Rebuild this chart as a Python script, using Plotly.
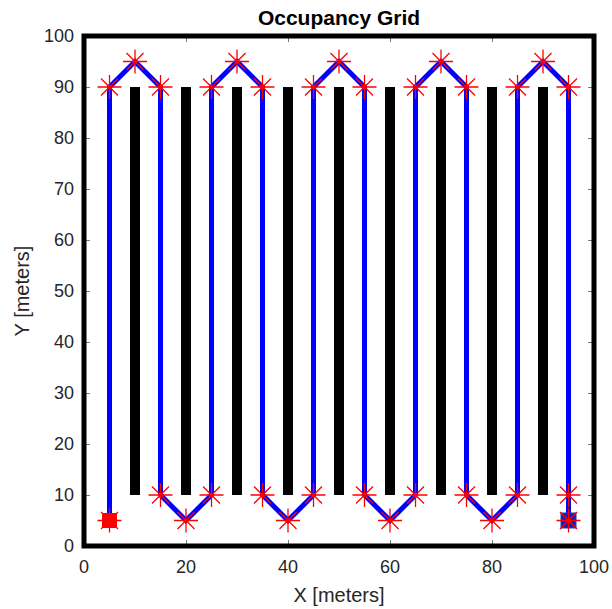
import plotly.graph_objects as go

# Waypoints of the coverage path
path_x = [5, 5, 10, 15, 15, 20, 25, 25, 30, 35, 35, 40, 45, 45, 50, 55, 55, 60, 65, 65, 70, 75, 75, 80, 85, 85, 90, 95, 95, 95]
path_y = [5, 90, 95, 90, 10, 5, 10, 90, 95, 90, 10, 5, 10, 90, 95, 90, 10, 5, 10, 90, 95, 90, 10, 5, 10, 90, 95, 90, 10, 5]

# Obstacles (occupied columns)
obs_x = [10, 20, 30, 40, 50, 60, 70, 80, 90]
obs_bottom = [10] * 9
obs_height = [80] * 9

start_pt = (5, 5)
goal_pt = (95, 5)

FONT = "Liberation Sans, Arial"
TXT = "#262626"

fig = go.Figure()
fig.add_trace(go.Bar(x=obs_x, y=obs_height, base=obs_bottom, width=2,
                     marker=dict(color="black", line=dict(width=0)), showlegend=False))
fig.add_trace(go.Scatter(x=path_x, y=path_y, mode="lines",
                         line=dict(color="#0000ff", width=5), showlegend=False))
fig.add_trace(go.Scatter(x=[start_pt[0]], y=[start_pt[1]], mode="markers",
                         marker=dict(symbol="square", size=15, color="red"), showlegend=False))
fig.add_trace(go.Scatter(x=[goal_pt[0]], y=[goal_pt[1]], mode="markers",
                         marker=dict(symbol="square", size=15, color="#1a1ab4",
                                     line=dict(color="#3030c0", width=1)), showlegend=False))
fig.add_trace(go.Scatter(x=path_x, y=path_y, mode="markers",
                         marker=dict(symbol="asterisk-open", size=20, color="red",
                                     line=dict(color="red", width=1.3)), showlegend=False))

axis_common = dict(range=[0, 100], showgrid=False, zeroline=False, showline=False,
                   automargin=False,
                   ticks="inside", ticklen=6, tickcolor="#777", tickwidth=1, mirror="ticks",
                   tickfont=dict(family=FONT, size=18, color=TXT))
fig.update_xaxes(**axis_common, dtick=20, ticklabelstandoff=8,
                 title=dict(text="X [meters]", standoff=11,
                            font=dict(family=FONT, size=20, color=TXT)))
fig.update_yaxes(**axis_common, dtick=10, ticklabelstandoff=9,
                 title=dict(text="Y [meters]", standoff=8,
                            font=dict(family=FONT, size=20, color=TXT)))

# thick black axes box around the plot area, like MATLAB
fig.add_shape(type="rect", xref="paper", yref="paper", x0=0, y0=0, x1=1, y1=1,
              line=dict(color="black", width=5), fillcolor="rgba(0,0,0,0)", layer="above")

fig.update_layout(
    width=612, height=609,
    margin=dict(l=84, r=18, t=36, b=63, autoexpand=False),
    plot_bgcolor="white", paper_bgcolor="white",
    bargap=0,
    title=dict(text="<b>Occupancy Grid</b>", x=0.5, xanchor="center", xref="paper",
               yref="container", y=1 - 18 / 609, yanchor="middle",
               font=dict(family=FONT, size=21, color="black")),
)
fig.write_html("out.html", config={"displayModeBar": False},
               post_script="document.body.style.margin='0';")
